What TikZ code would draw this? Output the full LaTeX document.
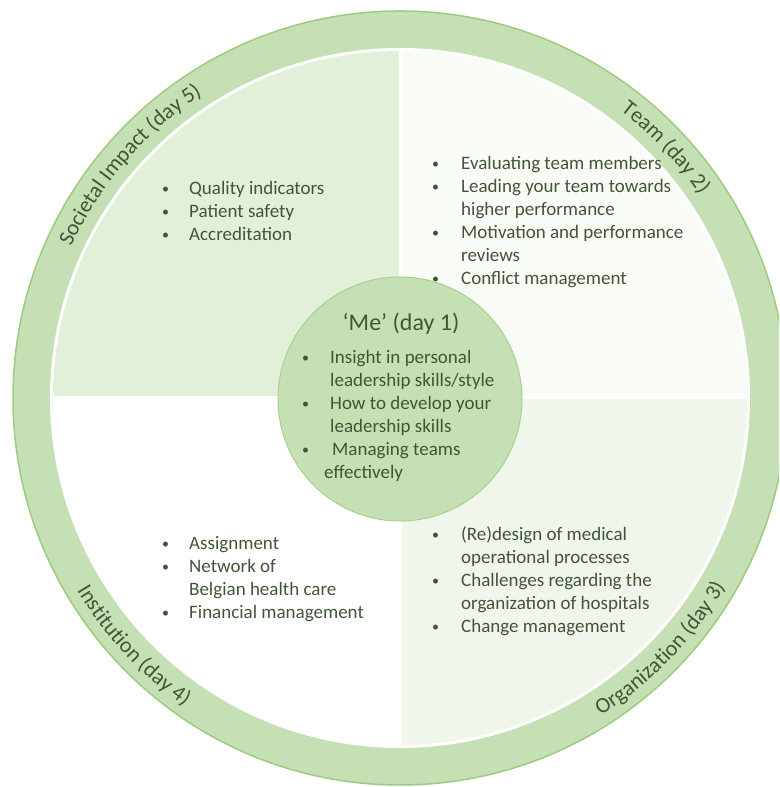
\documentclass[tikz,border=0pt]{standalone}
\usepackage{fontspec}
\setmainfont{Carlito}
\usepackage{xcolor}
\usetikzlibrary{decorations.text,positioning}

\definecolor{ringgreen}{HTML}{C5E0B4}
\definecolor{ringline}{HTML}{9DCC7E}
\definecolor{meline}{HTML}{A9D18E}
\definecolor{paleA}{HTML}{E2EFD9}
\definecolor{paleB}{HTML}{F8FBF6}
\definecolor{paleC}{HTML}{F0F6EC}
\definecolor{inkgreen}{HTML}{415638}
\newcommand{\ringfont}{\fontsize{22}{26}\selectfont}
\newcommand{\bul}{\raisebox{1.5pt}{\fontsize{14}{14}\selectfont\textbullet}}

\begin{document}
\begin{tikzpicture}[
  x=1pt, y=1pt,
  every node/.style={text=inkgreen, inner sep=0pt},
  topics/.style={anchor=base west, font=\fontsize{19}{23}\selectfont},
  ringtext/.style={decorate, decoration={text along path, text align=center, text color=inkgreen, text={|\ringfont|#1}}},
]
\useasboundingbox (0,0) rectangle (779,787);
\clip (0,0) rectangle (779,787);
\coordinate (C) at (400,389);
\fill[white] (0,0) rectangle (779,787);
\filldraw[fill=ringgreen, draw=ringline, line width=1.5pt] (C) circle[radius=387];
\fill[white] (C) circle[radius=350];
\fill[paleA] (C) -- ++(90:347) arc[start angle=90, end angle=180, radius=347] -- cycle;
\fill[paleB] (C) -- ++(0:347) arc[start angle=0, end angle=90, radius=347] -- cycle;
\fill[paleC] (C) -- ++(270:347) arc[start angle=270, end angle=360, radius=347] -- cycle;
\draw[white, line width=3pt] (C) ++(-350,0) -- ++(700,0);
\draw[white, line width=3pt] (C) ++(0,-350) -- ++(0,700);

\path[ringtext={Societal Impact (day 5)}, shift={(C)}] (169.2:362) arc[start angle=169.2, end angle=109.2, radius=362];
\path[ringtext={Team (day 2)}, shift={(C)}] (73.3:362) arc[start angle=73.3, end angle=13.3, radius=362];
\path[ringtext={Organization (day 3)}, shift={(C)}] (-73.9:376) arc[start angle=-73.9, end angle=-13.9, radius=376];
\path[ringtext={Institution (day 4)}, shift={(C)}] (192.9:376) arc[start angle=192.9, end angle=252.9, radius=376];

\node[topics] (soc) at (162,592) {\begin{tabular}[t]{@{}p{27pt}@{}l@{}}
\bul & Quality indicators\\
\bul & Patient safety\\
\bul & Accreditation
\end{tabular}};
\node[topics] (team) at (432,617) {\begin{tabular}[t]{@{}p{29pt}@{}l@{}}
\bul & Evaluating team members\\
\bul & Leading your team towards\\
 & higher performance\\
\bul & Motivation and performance\\
 & reviews\\
\bul & Conflict management
\end{tabular}};
\node[topics] (inst) at (162,237) {\begin{tabular}[t]{@{}p{27pt}@{}l@{}}
\bul & Assignment\\
\bul & Network of\\
 & Belgian health care\\
\bul & Financial management
\end{tabular}};
\node[topics] (org) at (432,246) {\begin{tabular}[t]{@{}p{29pt}@{}l@{}}
\bul & (Re)design of medical\\
 & operational processes\\
\bul & Challenges regarding the\\
 & organization of hospitals\\
\bul & Change management
\end{tabular}};

\filldraw[fill=ringgreen, draw=meline, line width=1pt] (400,388) circle[radius=122];
\node[anchor=base, font=\fontsize{24}{28}\selectfont] (me) at (401,456) {‘Me’ (day 1)};
\node[topics] (meitems) at (302,423) {\begin{tabular}[t]{@{}p{28pt}@{}l@{}}
\bul & Insight in personal\\
 & leadership skills/style\\
\bul & How to develop your\\
 & leadership skills\\
\bul & \hspace*{2pt}Managing teams\\
 & \hspace*{-6pt}effectively
\end{tabular}};
\end{tikzpicture}
\end{document}
